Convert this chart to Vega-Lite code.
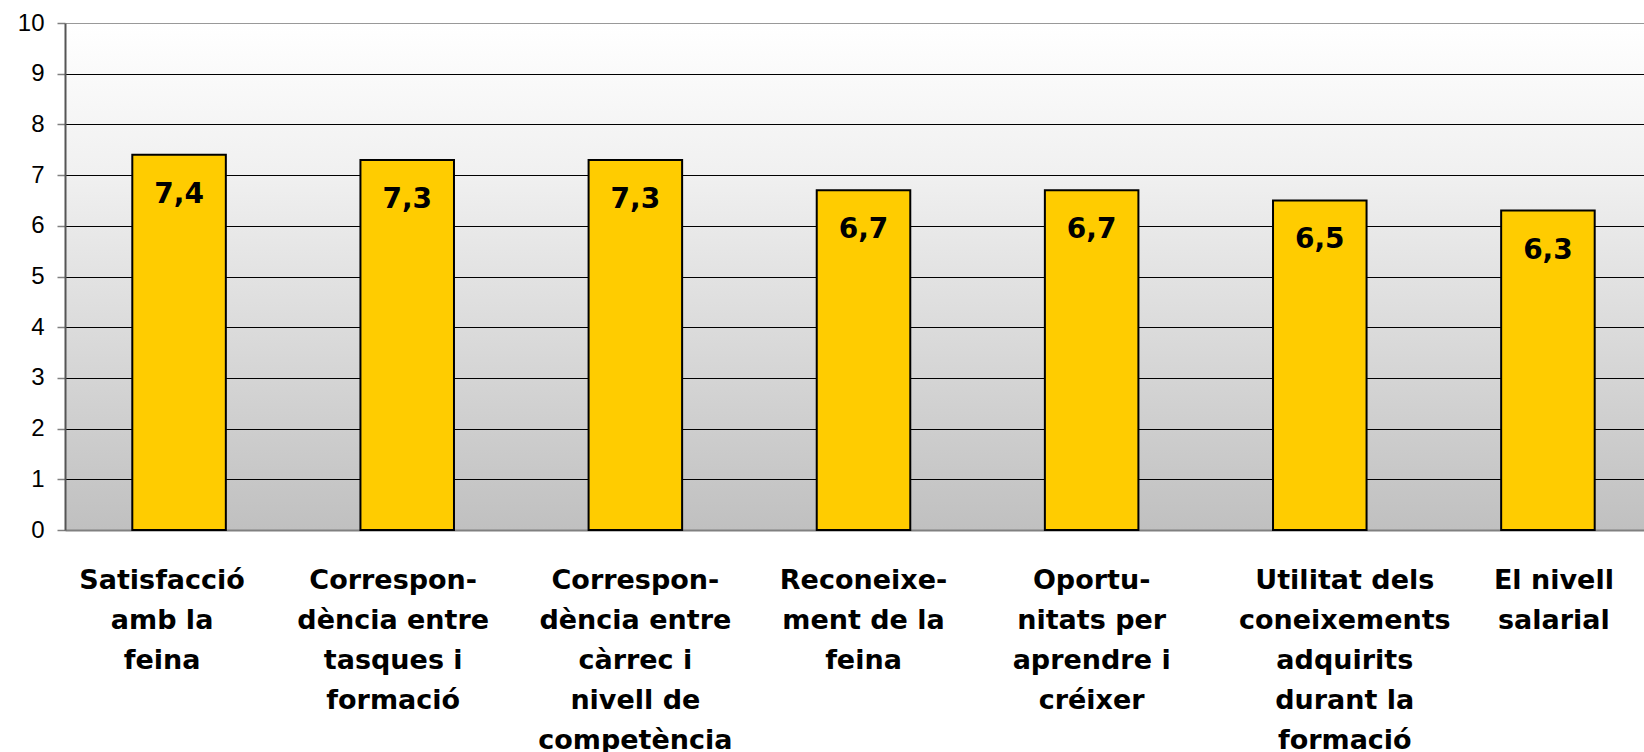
{
  "$schema": "https://vega.github.io/schema/vega-lite/v6.json",
  "autosize": "none",
  "padding": {"left": 65, "top": 23, "right": 0, "bottom": 222},
  "width": 1597,
  "height": 507,
  "background": "#ffffff",
  "view": {
    "stroke": null,
    "fill": {"gradient": "linear", "x1": 0, "y1": 0, "x2": 0, "y2": 1,
      "stops": [{"offset": 0, "color": "#ffffff"}, {"offset": 0.3, "color": "#f0f0f0"}, {"offset": 1, "color": "#c0c0c0"}]}
  },
  "data": {
    "values": [
      {"cat": "Satisfacció|amb la|feina", "value": 7.4, "label": "7,4"},
      {"cat": "Correspon-|dència entre|tasques i|formació", "value": 7.3, "label": "7,3"},
      {"cat": "Correspon-|dència entre|càrrec i|nivell de|competència", "value": 7.3, "label": "7,3"},
      {"cat": "Reconeixe-|ment de la|feina", "value": 6.7, "label": "6,7"},
      {"cat": "Oportu-|nitats per|aprendre i|créixer", "value": 6.7, "label": "6,7"},
      {"cat": "Utilitat dels|coneixements|adquirits|durant la|formació", "value": 6.5, "label": "6,5"},
      {"cat": "El nivell|salarial", "value": 6.3, "label": "6,3"}
    ]
  },
  "encoding": {
    "x": {"field": "cat", "type": "nominal", "sort": null,
      "scale": {"paddingInner": 0.59, "paddingOuter": 0.295},
      "axis": {"title": null, "labelAngle": 0, "labelExpr": "split(datum.label, '|')",
        "labelFont": "DejaVu Sans", "labelFontWeight": "bold", "labelFontSize": 27, "labelColor": "#000000",
        "labelLineHeight": 40, "labelBaseline": "top", "labelPadding": 37, "labelLimit": 0,
        "labelOverlap": false, "labelBound": false,
        "labelOffset": {"condition": [
          {"test": "indexof(datum.value, 'Satisf') === 0", "value": -17},
          {"test": "indexof(datum.value, 'tasques') >= 0", "value": -14},
          {"test": "indexof(datum.value, 'Utilitat') === 0", "value": 25},
          {"test": "indexof(datum.value, 'El nivell') === 0", "value": 6}
        ], "value": 0},
        "ticks": false, "domainColor": "#808080", "domainWidth": 2, "grid": false}},
    "y": {"field": "value", "type": "quantitative",
      "scale": {"domain": [0, 10], "nice": false},
      "axis": {"title": null, "values": [0,1,2,3,4,5,6,7,8,9,10],
        "labelFont": "Liberation Sans", "labelFontSize": 24, "labelColor": "#000000", "labelPadding": 13,
        "tickColor": "#808080", "tickSize": 8, "tickWidth": 1.5,
        "domainColor": "#555555", "domainWidth": 2,
        "grid": true, "gridWidth": 1.2,
        "gridColor": {"condition": {"test": "datum.value === 10 || datum.value === 0", "value": "#999999"}, "value": "#000000"}}}
  },
  "layer": [
    {"mark": {"type": "bar", "color": "#ffcc00", "stroke": "#000000", "strokeWidth": 2}},
    {"mark": {"type": "text", "font": "DejaVu Sans", "fontWeight": "bold", "fontSize": 28, "baseline": "middle", "dy": 40, "color": "#000000"},
      "encoding": {"text": {"field": "label"}}}
  ]
}
